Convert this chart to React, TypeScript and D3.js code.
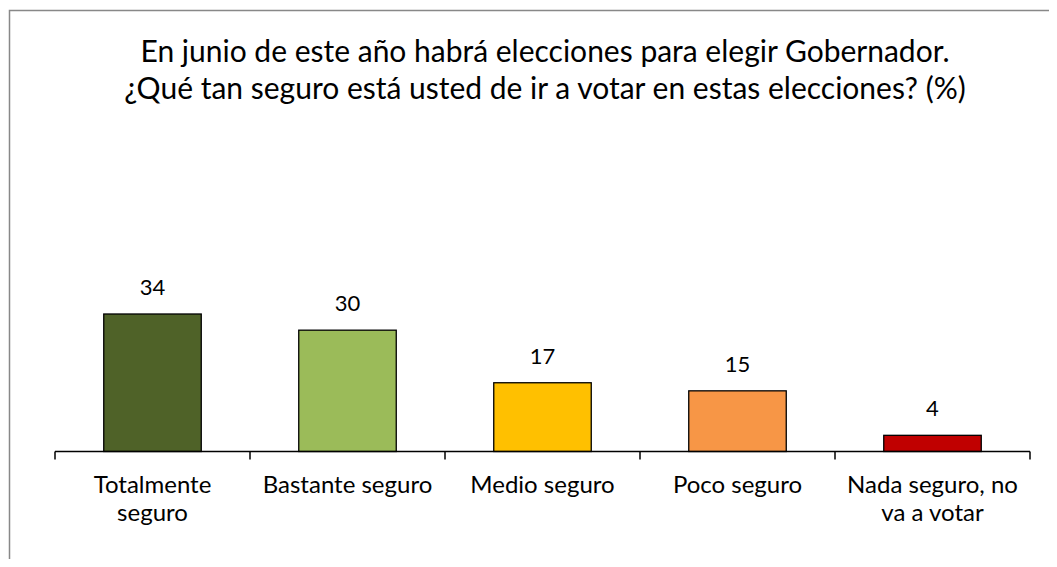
import * as d3 from "d3";
import { useEffect, useRef } from "react";

const categories = [
  ["Totalmente", "seguro"],
  ["Bastante seguro"],
  ["Medio seguro"],
  ["Poco seguro"],
  ["Nada seguro, no", "va a votar"],
];
const values = [34, 30, 17, 15, 4];
const colors = ["#4F6228", "#9BBB59", "#FFC000", "#F79646", "#C00000"];
const titleLines = [
  "En junio de este año habrá elecciones para elegir Gobernador.",
  "¿Qué tan seguro está usted de ir a votar en estas elecciones? (%)",
];

const App = () => {
  const svgRef = useRef<SVGSVGElement>(null);

  useEffect(() => {
    const w = 1057;
    const h = 567;
    const font = "'Gill Sans', Lato, 'Open Sans', sans-serif";
    const svg = d3.select(svgRef.current).attr("width", w).attr("height", h);
    svg.selectAll("*").remove();

    // outer frame
    svg.append("rect")
      .attr("x", 9.5).attr("y", 10.5)
      .attr("width", w + 20).attr("height", h + 20)
      .attr("fill", "#fff").attr("stroke", "#888").attr("stroke-width", 1.5);

    // title
    svg.append("g").selectAll("text")
      .data(titleLines).join("text")
      .attr("x", 545).attr("y", (d, i) => 62 + i * 37)
      .attr("text-anchor", "middle")
      .attr("font-family", font).attr("font-size", 30).attr("fill", "#000")
      .text(d => d);

    const axisY = 451.5;
    const xScale = d3.scaleBand<number>()
      .domain(values.map((v, i) => i))
      .range([55, 1030])
      .paddingInner(0.5).paddingOuter(0.25);
    const yScale = d3.scaleLinear().domain([0, 34]).range([axisY, 314]);

    // bars
    svg.append("g").selectAll("rect")
      .data(values).join("rect")
      .attr("x", (v, i) => xScale(i)!)
      .attr("y", v => yScale(v))
      .attr("width", xScale.bandwidth())
      .attr("height", v => axisY - yScale(v))
      .attr("fill", (v, i) => colors[i])
      .attr("stroke", "#000").attr("stroke-width", 1.3);

    // value labels
    svg.append("g").selectAll("text")
      .data(values).join("text")
      .attr("x", (v, i) => xScale(i)! + xScale.bandwidth() / 2)
      .attr("y", v => yScale(v) - 19)
      .attr("text-anchor", "middle")
      .attr("font-family", font).attr("font-size", 22).attr("fill", "#000")
      .text(v => v);

    // axis line and boundary ticks
    const step = xScale.step();
    const axis = svg.append("g");
    axis.append("line")
      .attr("x1", 55).attr("x2", 1030).attr("y1", axisY).attr("y2", axisY)
      .attr("stroke", "#000").attr("stroke-width", 1.5);
    axis.selectAll("line.tick")
      .data(d3.range(values.length + 1)).join("line")
      .attr("class", "tick")
      .attr("x1", i => 55 + i * step).attr("x2", i => 55 + i * step)
      .attr("y1", axisY).attr("y2", axisY + 8)
      .attr("stroke", "#000").attr("stroke-width", 1.5);

    // category labels
    const cats = svg.append("g").selectAll("text")
      .data(categories).join("text")
      .attr("text-anchor", "middle")
      .attr("font-family", font).attr("font-size", 24).attr("fill", "#000");
    cats.each(function (lines, i) {
      const cx = xScale(i)! + xScale.bandwidth() / 2;
      d3.select(this).selectAll("tspan")
        .data(lines).join("tspan")
        .attr("x", cx)
        .attr("y", (d, j) => 493 + j * 28)
        .text(d => d);
    });
  }, []);

  return (
    <div style={{ margin: -8 }}>
      <svg ref={svgRef} style={{ display: "block" }}></svg>
    </div>
  );
};

export default App;
